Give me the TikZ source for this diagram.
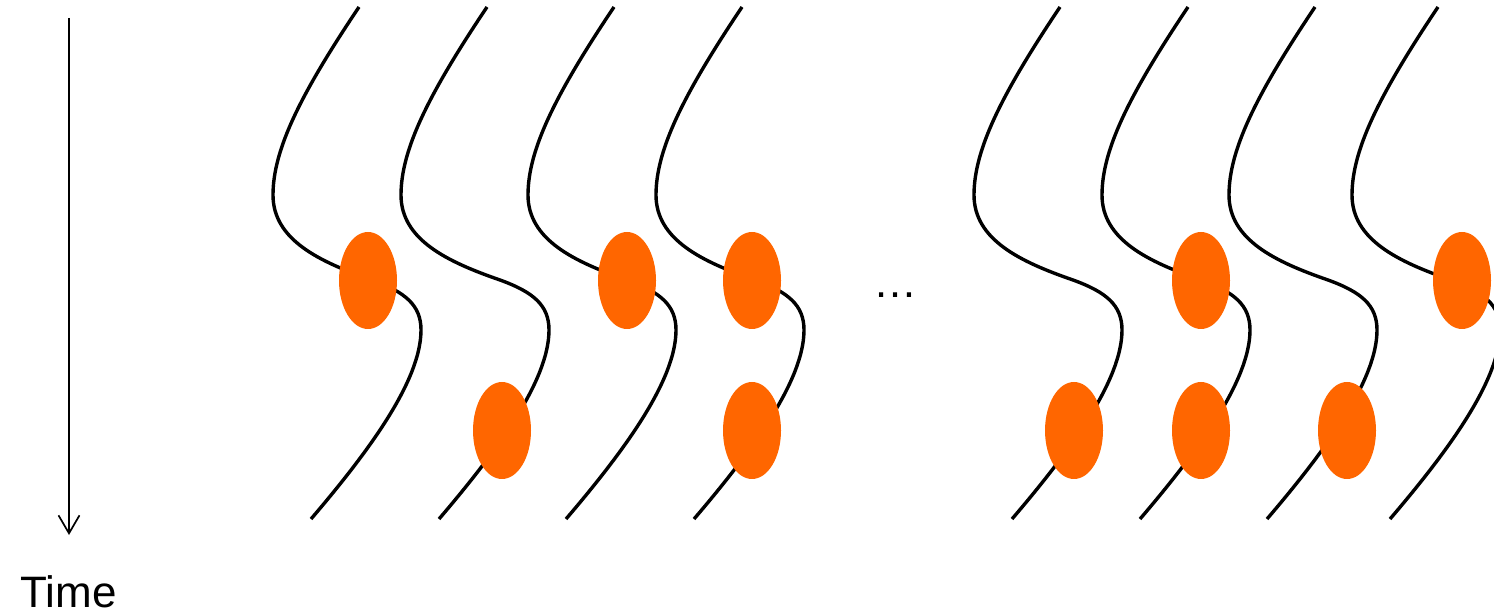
\documentclass[tikz,border=0pt]{standalone}
\usepackage{fontspec}
\setmainfont{Liberation Sans}
\usetikzlibrary{shapes.geometric, arrows.meta}
\definecolor{dotorange}{RGB}{255, 102, 0}

\begin{document}
\begin{tikzpicture}[
    x=0.5pt, y=-0.5pt,
    strand/.style={draw=black, line width=1.7pt},
    blob/.style={ellipse, fill=dotorange, inner sep=0pt, 
                 minimum width=29pt, minimum height=48.5pt},
    lbl/.style={anchor=base, inner sep=0pt, text depth=0pt, 
                font=\fontsize{22}{26}\selectfont}
]
    \useasboundingbox (0,0) rectangle (1494,614);

    % time axis
    \coordinate (tstart) at (69,18);
    \coordinate (tend) at (69,535);
    \draw[line width=0.85pt, -{Straight Barb[length=9pt, width=10.5pt]}] (tstart) -- (tend);
    \node[lbl] (time) at (68.5,607) {Time};

    % strands
    \foreach \o in {0,128,255,383,701,829,956,1079}
        \draw[strand, shift={(\o,0)}] (359,7) .. controls (300,95) and (273,150) .. (273,195)
            .. controls (273,240) and (320,262) .. (372,280)
            .. controls (405,292) and (421,305) .. (421,330)
            .. controls (421,380) and (370,450) .. (311,519);

    % events
    \node[blob] (e1) at (368,280.5) {};
    \node[blob] (e2) at (502,430.5) {};
    \node[blob] (e3) at (627,280.5) {};
    \node[blob] (e4) at (752,280.5) {};
    \node[blob] (e5) at (752,430.5) {};
    \node[blob] (e6) at (1074,430.5) {};
    \node[blob] (e7) at (1201,280.5) {};
    \node[blob] (e8) at (1201,430.5) {};
    \node[blob] (e9) at (1347,430.5) {};
    \node[blob] (e10) at (1462,280.5) {};

    \node[lbl] (gap) at (895,298) {…};
\end{tikzpicture}
\end{document}
